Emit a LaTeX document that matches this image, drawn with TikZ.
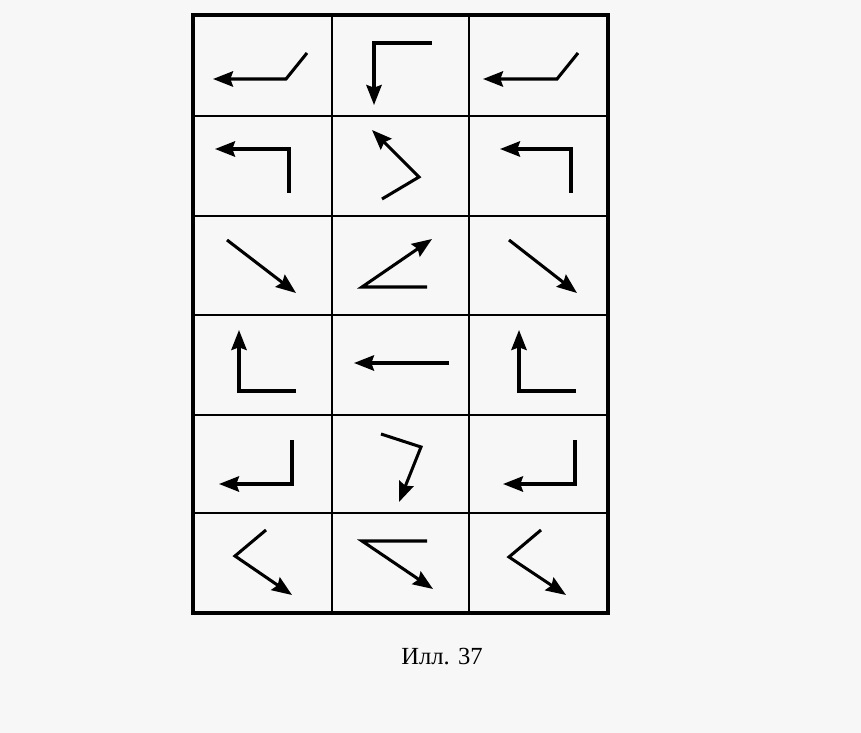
\documentclass[tikz,border=0pt]{standalone}
\usepackage{fontspec}
\setmainfont{Liberation Serif}
\usepackage{tikz}
\usetikzlibrary{arrows.meta}

\begin{document}
\begin{tikzpicture}[x=0.03cm, y=-0.03cm,
    frame/.style={line width=3pt},
    cell/.style={line width=1.4pt},
    arr/.style={-{Stealth[length=6mm, width=4.6mm, inset=0.8mm]}, line width=2.6pt}]
  \useasboundingbox[fill=gray!6] (0,0) rectangle (861,733);
  % grid
  \draw[frame] (193,15) rectangle (608,613);
  \foreach \x in {332,469} \draw[cell] (\x,15) -- (\x,613);
  \foreach \y in {116,216,315,415,513} \draw[cell] (193,\y) -- (608,\y);
  % row 1
  \draw[arr] (307,53) -- (286,79) -- (213,79);
  \draw[arr] (432,43) -- (374,43) -- (374,105);
  \draw[arr] (578,53) -- (557,79) -- (483,79);
  % row 2
  \draw[arr] (289,193) -- (289,149) -- (215,149);
  \draw[arr] (382,199) -- (419,177) -- (372,130);
  \draw[arr] (571,193) -- (571,149) -- (500,149);
  % row 3
  \draw[arr] (227,240) -- (296,293);
  \draw[arr] (427,287) -- (362,287) -- (432,239);
  \draw[arr] (509,240) -- (577,293);
  % row 4
  \draw[arr] (296,391) -- (239,391) -- (239,330);
  \draw[arr] (449,363) -- (354,363);
  \draw[arr] (576,391) -- (519,391) -- (519,330);
  % row 5
  \draw[arr] (292,440) -- (292,484) -- (219,484);
  \draw[arr] (381,434) -- (421,447) -- (399,502);
  \draw[arr] (575,440) -- (575,484) -- (503,484);
  % row 6
  \draw[arr] (266,530) -- (235,556) -- (292,595);
  \draw[arr] (427,541) -- (362,541) -- (433,589);
  \draw[arr] (541,530) -- (509,557) -- (566,595);
  % caption
  \node[font=\fontsize{21}{25}\selectfont] (cap) at (442,657) {Илл. 37};
\end{tikzpicture}
\end{document}
